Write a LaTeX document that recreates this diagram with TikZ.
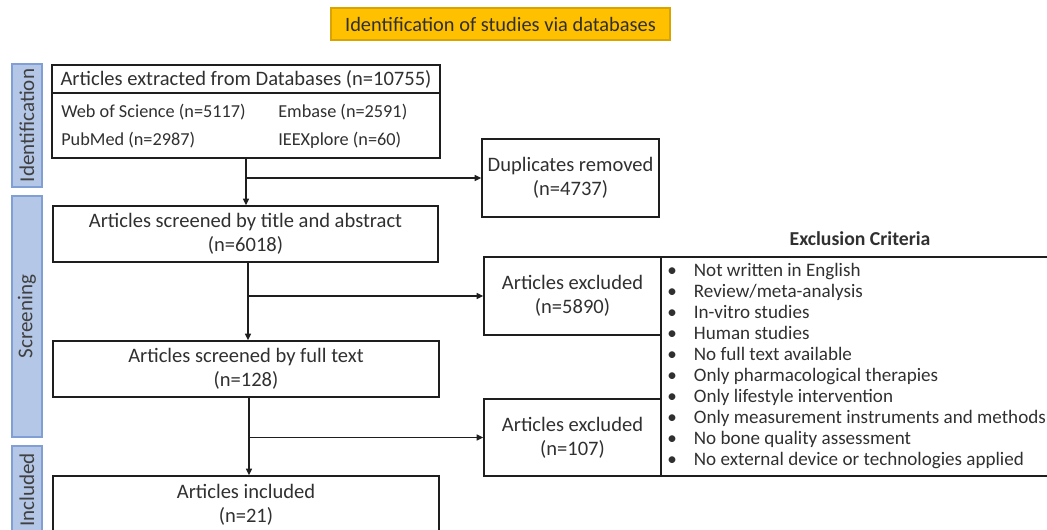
\documentclass[tikz,border=0pt]{standalone}
\usepackage{fontspec}
\setmainfont{Carlito}
\usetikzlibrary{arrows.meta,fit,calc}
\definecolor{hdrfill}{HTML}{FFC000}
\definecolor{hdrdraw}{HTML}{D9A300}
\definecolor{barfill}{HTML}{B4C7E7}
\definecolor{bardraw}{HTML}{7F9FD5}
\definecolor{bartext}{HTML}{404040}
\definecolor{ink}{HTML}{1E1E1E}
\definecolor{txt}{HTML}{303030}
\begin{document}
\begin{tikzpicture}[x=0.75pt,y=-0.75pt,
  box/.style={draw=ink, line width=1.1pt, inner sep=0pt, align=center, text=txt, font=\fontsize{15.4}{17.8}\selectfont},
  bar/.style={draw=bardraw, fill=barfill, line width=0.9pt, inner sep=0pt},
  bartxt/.style={rotate=90, text=bartext, font=\fontsize{15.8}{18}\selectfont},
  item/.style={anchor=west, inner sep=0pt, text=txt, font=\fontsize{13.7}{16}\selectfont},
  arr/.style={draw=ink, line width=1.1pt, -{Triangle[length=5pt,width=4.5pt]}}]
\useasboundingbox (0,0) rectangle (1047,530);
\clip (0,0) rectangle (1047,530);
% header
\node[draw=hdrdraw, fill=hdrfill, line width=0.8pt, inner sep=0pt, fit={(331,8)(670,40)}] (hdr) {};
\node[text=txt, font=\fontsize{15.3}{17}\selectfont] (hdrt) at (hdr.center) {Identification of studies via databases};
% phase bars
\node[bar, fit={(12,64)(42,187)}] (barid) {};
\node[bartxt] (tid) at (barid.center) {Identification};
\node[bar, fit={(12,196)(42,437)}] (barsc) {};
\node[bartxt] (tsc) at (barsc.center) {Screening};
\node[bar, fit={(12,446)(42,545)}] (barin) {};
\node[bartxt] (tin) at (27,490) {Included};
% box 1
\node[box, fit={(52,65)(440,158)}] (b1) {};
\coordinate (div) at (0,93);
\draw[draw=ink, line width=1.1pt] (b1.west |- div) -- (b1.east |- div);
\node[text=txt, font=\fontsize{15.4}{17}\selectfont] (b1t) at (246,79) {Articles extracted from Databases (n=10755)};
\node[item] (wos) at (61,112) {Web of Science (n=5117)};
\node[item] (emb) at (278,112) {Embase (n=2591)};
\node[item] (pub) at (61,140) {PubMed (n=2987)};
\node[item] (iee) at (278,140) {IEEXplore (n=60)};
% duplicates
\node[box, fit={(482,139)(659,217)}] (dup) {};
\node[box, draw=none] (dupt) at (dup.center) {Duplicates removed\\(n=4737)};
% box 2
\node[box, fit={(53,206)(438,262)}] (b2) {};
\node[box, draw=none] (b2t) at (b2.center) {Articles screened by title and abstract\\(n=6018)};
% excluded 1
\node[box, fit={(484,257)(661,335)}] (ex1) {};
\node[box, draw=none] (ex1t) at (ex1.center) {Articles excluded\\(n=5890)};
% box 3
\node[box, fit={(53,341)(439,397)}] (b3) {};
\node[box, draw=none] (b3t) at (b3.center) {Articles screened by full text\\(n=128)};
% excluded 2
\node[box, fit={(484,399)(661,476)}] (ex2) {};
\node[box, draw=none] (ex2t) at (ex2.center) {Articles excluded\\(n=107)};
% criteria
\node[box, fit={(661,257)(1060,476)}] (crit) {};
\node[text=txt, font=\bfseries\fontsize{14.8}{17}\selectfont] (critt) at (860,239) {Exclusion Criteria};
\node[anchor=west, inner sep=0pt, align=left, text=txt, font=\fontsize{14.3}{15.75}\selectfont] (critl) at (667,366) {%
\makebox[20pt][l]{\textbullet}Not written in English\\
\makebox[20pt][l]{\textbullet}Review/meta-analysis\\
\makebox[20pt][l]{\textbullet}In-vitro studies\\
\makebox[20pt][l]{\textbullet}Human studies\\
\makebox[20pt][l]{\textbullet}No full text available\\
\makebox[20pt][l]{\textbullet}Only pharmacological therapies\\
\makebox[20pt][l]{\textbullet}Only lifestyle intervention\\
\makebox[20pt][l]{\textbullet}Only measurement instruments and methods\\
\makebox[20pt][l]{\textbullet}No bone quality assessment\\
\makebox[20pt][l]{\textbullet}No external device or technologies applied};
% box 4
\node[box, fit={(53,476)(439,534)}] (b4) {};
\node[box, draw=none] (b4t) at (b4.center) {Articles included\\(n=21)};
% connectors
\coordinate (j1) at (246,0);
\draw[arr] (j1 |- b1.south) -- (j1 |- b2.north);
\draw[arr] (j1 |- dup.west) -- (dup.west);
\coordinate (j2) at (248,0);
\draw[arr] (j2 |- b2.south) -- (j2 |- b3.north);
\draw[arr] (j2 |- ex1.west) -- (ex1.west);
\coordinate (j3) at (249,0);
\draw[arr] (j3 |- b3.south) -- (j3 |- b4.north);
\draw[arr] (j3 |- ex2.west) -- (ex2.west);
\end{tikzpicture}
\end{document}
